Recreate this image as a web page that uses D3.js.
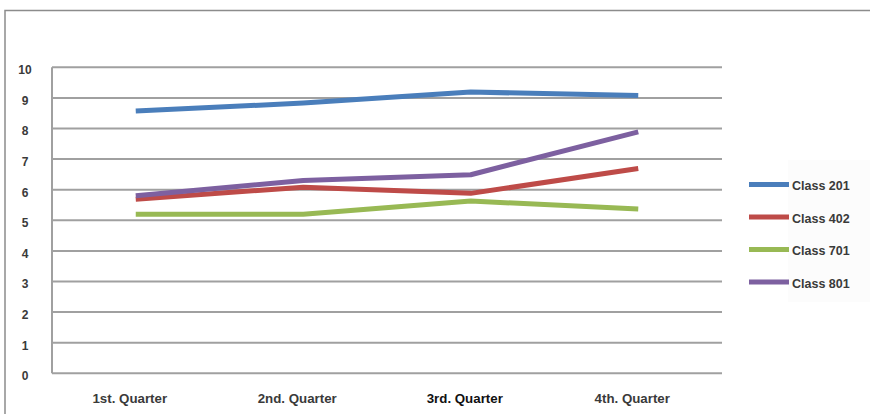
<!DOCTYPE html>
<html><head><meta charset="utf-8">
<script src="https://cdn.jsdelivr.net/npm/d3@7"></script>
<style>body{margin:0;background:#fff;}svg{display:block;font-family:Arial,"Liberation Sans",sans-serif;}</style>
</head><body><svg id="c" width="870" height="414"></svg>
<script>
const categories = ["1st. Quarter", "2nd. Quarter", "3rd. Quarter", "4th. Quarter"];
const seriesNames = ["Class 201", "Class 402", "Class 701", "Class 801"];
const class201 = [8.57, 8.83, 9.19, 9.08];
const class402 = [5.69, 6.08, 5.88, 6.69];
const class701 = [5.2, 5.2, 5.63, 5.37];
const class801 = [5.8, 6.3, 6.49, 7.89];
const colors = ["#4a7ebb", "#be4b48", "#98b954", "#7d60a0"];
const yTicks = [0,1,2,3,4,5,6,7,8,9,10];

const series = [class201, class402, class701, class801];
const svg = d3.select("#c");
const L = 52, R = 722, T = 67.3, B = 373.3;

// outer frame
svg.append("path").attr("d", "M5,414 V10.5 H870").attr("fill","none").attr("stroke","#8c8c8c").attr("stroke-width",1.5);
// faint legend panel
svg.append("rect").attr("x", 788).attr("y", 160).attr("width", 82).attr("height", 142).attr("fill", "#fcfcfc");

const x = d3.scaleBand().domain(categories).range([L, R]);
const y = d3.scaleLinear().domain([0, 10]).range([B, T]);

// gridlines
const g = svg.append("g");
g.selectAll("line.grid").data(yTicks).join("line")
  .attr("x1", L).attr("x2", R).attr("y1", d => y(d)).attr("y2", d => y(d))
  .attr("stroke", "#a0a0a0").attr("stroke-width", 2);
g.append("line").attr("x1", L).attr("x2", L).attr("y1", T).attr("y2", B)
  .attr("stroke", "#a0a0a0").attr("stroke-width", 2);

// y axis labels
const yAxis = d3.axisLeft(y).tickValues(yTicks).tickSize(0).tickPadding(0).tickFormat(d3.format("d"));
const ya = svg.append("g").attr("transform", `translate(25,2.5)`).call(yAxis);
ya.select(".domain").remove();
ya.selectAll("text").attr("text-anchor", "middle").attr("font-size", 12).attr("font-weight", "bold").attr("fill", "#3a3a3a")
  .attr("font-family", "Arial, 'Liberation Sans', sans-serif");

// x axis labels
const xAxis = d3.axisBottom(x).tickSize(0).tickPadding(0);
const xa = svg.append("g").attr("transform", `translate(-6,${B + 20})`).call(xAxis);
xa.select(".domain").remove();
xa.selectAll("text").attr("font-size", 13.3).attr("font-weight", "bold")
  .attr("fill", (d,i) => i === 2 ? "#111" : "#3a3a3a")
  .attr("font-family", "Arial, 'Liberation Sans', sans-serif");

// lines
const line = d3.line().x((d,i) => x(categories[i]) + x.bandwidth()/2).y(d => y(d));
svg.append("g").selectAll("path").data(series).join("path")
  .attr("d", d => line(d)).attr("fill", "none")
  .attr("stroke", (d,i) => colors[i]).attr("stroke-width", 5)
  .attr("stroke-linejoin", "round");

// legend
const leg = svg.append("g");
const ly = d3.scalePoint().domain(seriesNames).range([184.5, 282]);
const items = leg.selectAll("g").data(seriesNames).join("g")
  .attr("transform", d => `translate(0,${ly(d)})`);
items.append("line").attr("x1", 749).attr("x2", 789).attr("y1", 0).attr("y2", 0)
  .attr("stroke", (d,i) => colors[i]).attr("stroke-width", 5);
items.append("text").attr("x", 792).attr("y", 1.5).attr("dy", "0.35em").text(d => d)
  .attr("font-size", 12.5).attr("font-weight", "bold").attr("fill", "#3a3a3a");
</script></body></html>
